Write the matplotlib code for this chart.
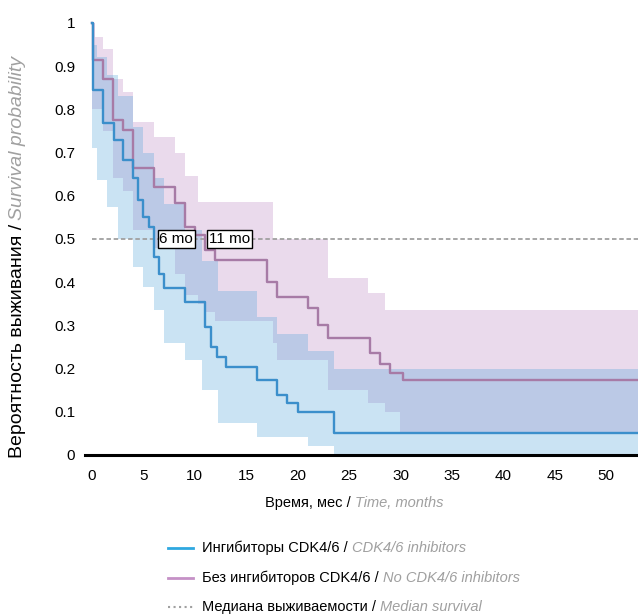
import matplotlib
matplotlib.use("Agg")
import matplotlib.pyplot as plt
from matplotlib.lines import Line2D

plt.rcParams['font.family'] = ['Liberation Sans Narrow', 'Liberation Sans', 'DejaVu Sans']

# Kaplan-Meier curves (months, survival)
cdk_t = [0, 0.1, 1.1, 2.1, 3.0, 4.0, 4.5, 5.0, 5.5, 6.0, 6.5, 7.0, 9.0, 11.0, 11.6, 12.2, 13.0, 16.0, 18.0, 19.0, 20.0, 23.5, 53.5]
cdk_s = [1.0, 0.845, 0.768, 0.729, 0.683, 0.64, 0.59, 0.55, 0.528, 0.458, 0.42, 0.386, 0.354, 0.296, 0.25, 0.227, 0.204, 0.174, 0.14, 0.12, 0.10, 0.05, 0.05]

no_t = [0, 0.1, 1.1, 2.0, 3.0, 4.0, 6.0, 8.1, 9.0, 10.0, 11.0, 12.0, 17.0, 18.0, 21.0, 22.0, 23.0, 27.0, 28.0, 29.0, 30.2, 53.5]
no_s = [1.0, 0.914, 0.87, 0.775, 0.752, 0.664, 0.62, 0.583, 0.528, 0.51, 0.475, 0.451, 0.40, 0.366, 0.34, 0.30, 0.27, 0.236, 0.21, 0.19, 0.174, 0.174]

# confidence bands
cdk_ci_t = [0, 0.5, 1.5, 2.5, 4.0, 5.0, 6.0, 7.0, 9.0, 10.7, 12.3, 16.0, 18.0, 21.0, 23.5, 53.5]
cdk_lo = [0.71, 0.636, 0.574, 0.50, 0.435, 0.389, 0.336, 0.26, 0.22, 0.15, 0.075, 0.042, 0.042, 0.02, 0.003, 0.003]
cdk_hi = [0.95, 0.92, 0.88, 0.83, 0.76, 0.70, 0.64, 0.58, 0.52, 0.45, 0.38, 0.32, 0.28, 0.24, 0.20, 0.19]

no_ci_t = [0, 0.3, 1.1, 2.0, 3.0, 4.0, 6.0, 8.1, 9.0, 10.3, 11.0, 12.0, 17.6, 18.0, 23.0, 26.8, 28.5, 30.0, 53.5]
no_hi = [1.0, 0.968, 0.94, 0.87, 0.84, 0.77, 0.735, 0.70, 0.645, 0.585, 0.585, 0.585, 0.50, 0.50, 0.41, 0.375, 0.335, 0.335, 0.335]
no_lo = [0.80, 0.80, 0.75, 0.64, 0.61, 0.52, 0.48, 0.42, 0.37, 0.35, 0.33, 0.31, 0.26, 0.22, 0.15, 0.12, 0.10, 0.05, 0.05]

medians = [6, 11]
median_label_x = [8.2, 13.4]
xticks = [0, 5, 10, 15, 20, 25, 30, 35, 40, 45, 50]
yticks = [0, 0.1, 0.2, 0.3, 0.4, 0.5, 0.6, 0.7, 0.8, 0.9, 1]

blue = '#3b8fcb'
purple = '#a77ba6'
grey = '#a0a0a0'

W, H = 638, 615
fig = plt.figure(figsize=(W / 100, H / 100), dpi=100)
ax = fig.add_axes([85 / W, 1 - 455 / H, 1 - 85 / W, 455 / H])

ax.fill_between(no_ci_t, no_lo, no_hi, step='post', color='#c08cc4', alpha=0.32, lw=0)
ax.fill_between(cdk_ci_t, cdk_lo, cdk_hi, step='post', color='#5aa8dc', alpha=0.32, lw=0)
ax.axhline(0.5, color=grey, lw=1.3, dashes=(2.5, 1.5), xmin=0.012)
ax.step(no_t, no_s, where='post', color=purple, lw=1.7)
ax.step(cdk_t, cdk_s, where='post', color=blue, lw=1.7)

for m, lx in zip(medians, median_label_x):
    ax.text(lx, 0.5, f"{m} mo", ha='center', va='center', fontsize=11,
            bbox=dict(boxstyle='square,pad=0.12', fc='white', ec='black', lw=1))

ax.set_xlim(-0.68, 53.1)
ax.set_ylim(0, 1.053)
ax.set_xticks(xticks)
ax.set_yticks(yticks)
ax.set_yticklabels([f"{v:g}" for v in yticks])
ax.tick_params(length=0, labelsize=11)
ax.tick_params(axis='y', pad=7)
ax.tick_params(axis='x', pad=10)
for s in ['top', 'right', 'left']:
    ax.spines[s].set_visible(False)
ax.spines['bottom'].set_linewidth(2.2)
ax.spines['bottom'].set_zorder(5)

renderer = fig.canvas.get_renderer()


def rich(x, y, parts, size, rotation=0, center=False, gap=4):
    # draw black + grey italic pieces one after another (pixel coords)
    texts = []
    pos = 0
    for s, style in parts:
        kw = dict(fontsize=size, transform=None, rotation=rotation)
        if style:
            kw.update(color=grey, style='italic')
        else:
            kw.update(color='black')
        if rotation == 90:
            t = fig.text(x, y + pos, s, ha='center', va='bottom', **kw)
            bb = t.get_window_extent(renderer)
            pos += bb.height + gap
        else:
            t = fig.text(x + pos, y, s, ha='left', va='center', **kw)
            bb = t.get_window_extent(renderer)
            pos += bb.width + gap
        texts.append(t)
    if center:
        total = pos - gap
        for t in texts:
            px, py = t.get_position()
            t.set_position((px - total / 2, py))
    return texts


rich(18, H - 458, [("Вероятность выживания /", False), ("Survival probability", True)], 14, rotation=90)
rich(354, H - 503, [("Время, мес /", False), ("Time, months", True)], 10.5, center=True)

legend_rows = [
    ("Ингибиторы CDK4/6 /", "CDK4/6 inhibitors", '#2fa8e0', '-'),
    ("Без ингибиторов CDK4/6 /", "No CDK4/6 inhibitors", '#c591c6', '-'),
    ("Медиана выживаемости /", "Median survival", grey, ':'),
]
for i, (ru, en, c, ls) in enumerate(legend_rows):
    y = H - (548 + 29.5 * i)
    fig.add_artist(Line2D([168 / W, 193 / W], [y / H, y / H], color=c, lw=2 if ls == '-' else 1.5,
                          linestyle=ls, transform=fig.transFigure))
    rich(202, y, [(ru, False), (en, True)], 10.5)

fig.savefig("out.png", dpi=100)
